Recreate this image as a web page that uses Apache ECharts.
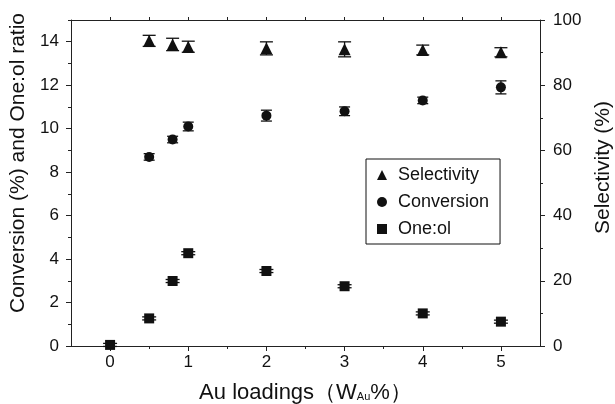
<!DOCTYPE html>
<html>
<head>
<meta charset="utf-8">
<script src="https://cdn.jsdelivr.net/npm/echarts@6/dist/echarts.min.js"></script>
<style>
  html, body { margin: 0; padding: 0; background: #fff; }
  #chart { width: 615px; height: 404px; }
</style>
</head>
<body>
<div id="chart"></div>
<script>
// values
const loadings = [0.5, 0.8, 1, 2, 3, 4, 5];
const selectivity = [93.6, 92.5, 91.8, 91.3, 91.0, 90.8, 90.1];
const selectivityErr = [1.7, 1.9, 1.7, 2.0, 2.3, 1.5, 1.4];
const conversion = [8.7, 9.5, 10.1, 10.6, 10.8, 11.3, 11.9];
const conversionErr = [0.15, 0.15, 0.2, 0.25, 0.2, 0.15, 0.3];
const oneolLoadings = [0, 0.5, 0.8, 1, 2, 3, 4, 5];
const oneol = [0.05, 1.27, 2.99, 4.27, 3.45, 2.75, 1.5, 1.12];
const oneolErr = [0.07, 0.07, 0.07, 0.07, 0.07, 0.07, 0.07, 0.07];

const xMajor = [0, 1, 2, 3, 4, 5];
const xMinor = [0.5, 1.5, 2.5, 3.5, 4.5];
const xTop = [0, 0.5, 1, 1.5, 2, 2.5, 3, 3.5, 4, 4.5, 5];
const leftMajor = [0, 2, 4, 6, 8, 10, 12, 14];
const leftMinor = [1, 3, 5, 7, 9, 11, 13, 15];
const rightMajor = [0, 20, 40, 60, 80, 100];
const rightMinor = [10, 30, 50, 70, 90];

const myChart = echarts.init(document.getElementById("chart"));
const ink = "#111";
const axisColor = "#222";
const font = "'Liberation Sans', Arial, sans-serif";

const pairs = (xs, ys, es) => xs.map((x, i) => [x, ys[i], es[i]]);

const errorBars = (name, data, yIdx, cap) => ({
    type: "custom",
    name: name + " err",
    xAxisIndex: 0,
    yAxisIndex: yIdx,
    data: data,
    z: 2,
    silent: true,
    renderItem: function(params, api) {
        const x = api.value(0), v = api.value(1), e = api.value(2);
        const top = api.coord([x, v + e]);
        const bot = api.coord([x, v - e]);
        const hw = cap / 2;
        const style = {stroke: ink, lineWidth: 1.3};
        return {
            type: "group",
            children: [
                {type: "line", shape: {x1: top[0], y1: top[1], x2: bot[0], y2: bot[1]}, style: style},
                {type: "line", shape: {x1: top[0] - hw, y1: top[1], x2: top[0] + hw, y2: top[1]}, style: style},
                {type: "line", shape: {x1: bot[0] - hw, y1: bot[1], x2: bot[0] + hw, y2: bot[1]}, style: style}
            ]
        };
    }
});

const hiddenX = (position, ticks, len) => ({
    type: "value",
    position: position,
    min: -0.5,
    max: 5.5,
    axisLine: {show: position === "top", onZero: false, lineStyle: {color: axisColor}},
    axisTick: {show: true, customValues: ticks, length: len, lineStyle: {color: axisColor}},
    axisLabel: {show: false},
    splitLine: {show: false}
});

const hiddenY = (position, min, max, ticks, len) => ({
    type: "value",
    position: position,
    min: min,
    max: max,
    axisLine: {show: false, onZero: false},
    axisTick: {show: true, customValues: ticks, length: len, lineStyle: {color: axisColor}},
    axisLabel: {show: false},
    splitLine: {show: false}
});

const option = {
    animation: false,
    textStyle: {fontFamily: font, color: ink},
    grid: {left: 71, right: 75, top: 20, bottom: 58, containLabel: false, outerBoundsMode: "none"},
    legend: {
        orient: "vertical",
        left: 366,
        top: 159,
        padding: [6, 11, 5, 11],
        itemGap: 7,
        itemWidth: 10,
        itemHeight: 10,
        borderColor: "#111",
        borderWidth: 1,
        borderRadius: 0,
        textStyle: {fontSize: 18, color: ink, fontFamily: font, lineHeight: 20, padding: [0, 0, 0, 6]},
        data: ["Selectivity", "Conversion", "One:ol"]
    },
    xAxis: [
        {
            type: "value",
            position: "bottom",
            min: -0.5,
            max: 5.5,
            name: "{a|Au loadings（W}{s|Au}{a|%）}",
            nameLocation: "middle",
            nameGap: 36,
            nameTextStyle: {
                rich: {
                    a: {fontSize: 22, color: ink, fontFamily: font},
                    s: {fontSize: 11, color: ink, fontFamily: font, padding: [8, 0, 0, 0]}
                }
            },
            axisLine: {onZero: false, lineStyle: {color: axisColor}},
            axisTick: {customValues: xMajor, length: 5, lineStyle: {color: axisColor}},
            axisLabel: {customValues: xMajor, fontSize: 17, color: ink, margin: 8},
            splitLine: {show: false}
        },
        hiddenX("bottom", xMinor, 3),
        hiddenX("top", xTop, 3)
    ],
    yAxis: [
        {
            type: "value",
            position: "left",
            min: 0,
            max: 15,
            name: "Conversion (%) and One:ol ratio",
            nameLocation: "middle",
            nameGap: 38,
            nameTextStyle: {fontSize: 21, color: ink, padding: [0, 0, 0, 40]},
            axisLine: {show: true, onZero: false, lineStyle: {color: axisColor}},
            axisTick: {show: true, customValues: leftMajor, length: 5, lineStyle: {color: axisColor}},
            axisLabel: {customValues: leftMajor, fontSize: 17, color: ink, margin: 12},
            splitLine: {show: false}
        },
        hiddenY("left", 0, 15, leftMinor, 3),
        {
            type: "value",
            position: "right",
            min: 0,
            max: 100,
            name: "Selectivity (%)",
            nameLocation: "middle",
            nameGap: 53,
            nameTextStyle: {fontSize: 21, color: ink, padding: [0, 0, 0, 31]},
            axisLine: {show: true, onZero: false, lineStyle: {color: axisColor}},
            axisTick: {show: true, customValues: rightMajor, length: 5, lineStyle: {color: axisColor}},
            axisLabel: {customValues: rightMajor, fontSize: 17, color: ink, margin: 13},
            splitLine: {show: false}
        },
        hiddenY("right", 0, 100, rightMinor, 3)
    ],
    series: [
        errorBars("Selectivity", pairs(loadings, selectivity, selectivityErr), 2, 13),
        errorBars("Conversion", pairs(loadings, conversion, conversionErr), 0, 11),
        errorBars("One:ol", pairs(oneolLoadings, oneol, oneolErr), 0, 14),
        {
            type: "scatter",
            name: "Selectivity",
            xAxisIndex: 0,
            yAxisIndex: 2,
            symbol: "triangle",
            symbolSize: 12,
            itemStyle: {color: ink, opacity: 1},
            z: 3,
            data: loadings.map((x, i) => [x, selectivity[i]])
        },
        {
            type: "scatter",
            name: "Conversion",
            xAxisIndex: 0,
            yAxisIndex: 0,
            symbol: "circle",
            symbolSize: 10,
            itemStyle: {color: ink, opacity: 1},
            z: 3,
            data: loadings.map((x, i) => [x, conversion[i]])
        },
        {
            type: "scatter",
            name: "One:ol",
            xAxisIndex: 0,
            yAxisIndex: 0,
            symbol: "rect",
            symbolSize: 10,
            itemStyle: {color: ink, opacity: 1},
            z: 3,
            clip: true,
            data: oneolLoadings.map((x, i) => [x, oneol[i]])
        }
    ]
};

option && myChart.setOption(option);
</script>
</body>
</html>
